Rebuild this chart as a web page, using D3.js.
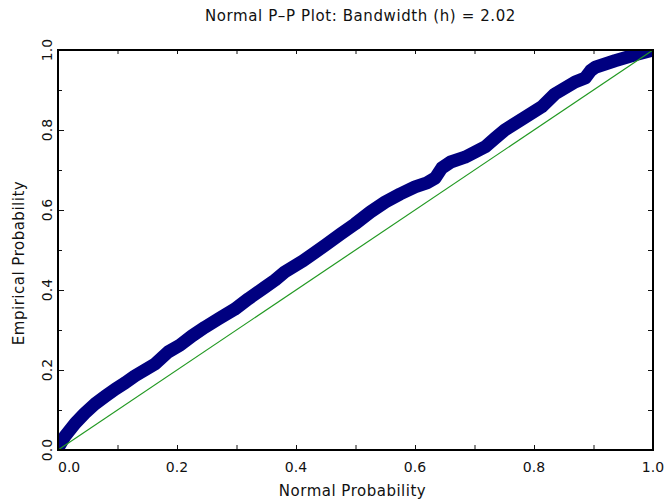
<!DOCTYPE html>
<html>
<head>
<meta charset="utf-8">
<script src="https://cdn.jsdelivr.net/npm/d3@7"></script>
<style>
  body { margin: 0; background: #fff; }
  svg { display: block; }
  text { font-family: "DejaVu Sans", sans-serif; fill: #111; }
</style>
</head>
<body>
<div id="chart"></div>
<script>
//---------------------------DATA---------------------------//
// normal (theoretical) probability vs empirical probability
var normalProb = [0.000, 0.012, 0.029, 0.045, 0.062, 0.080, 0.096, 0.113, 0.129, 0.146,
                  0.163, 0.185, 0.205, 0.225, 0.247, 0.270, 0.297, 0.320, 0.348, 0.365,
                  0.381, 0.412, 0.430, 0.449, 0.475, 0.499, 0.525, 0.550, 0.575, 0.600,
                  0.620, 0.634, 0.645, 0.660, 0.684, 0.718, 0.735, 0.751, 0.785, 0.813,
                  0.835, 0.869, 0.886, 0.895, 0.903, 0.936, 0.970, 1.000];
var empiricalProb = [0.005, 0.035, 0.067, 0.092, 0.115, 0.135, 0.152, 0.168, 0.185, 0.200,
                     0.215, 0.245, 0.262, 0.285, 0.307, 0.328, 0.352, 0.378, 0.407, 0.425,
                     0.445, 0.473, 0.492, 0.512, 0.540, 0.565, 0.595, 0.620, 0.640, 0.658,
                     0.668, 0.680, 0.705, 0.720, 0.732, 0.758, 0.780, 0.800, 0.832, 0.858,
                     0.890, 0.920, 0.930, 0.948, 0.957, 0.973, 0.988, 1.000];
var refLine = [0, 1];
var majorTicks = [0, 0.2, 0.4, 0.6, 0.8, 1.0];
var minorTicks = [0.1, 0.3, 0.5, 0.7, 0.9];
var tickLabels = ["0.0", "0.2", "0.4", "0.6", "0.8", "1.0"];

var titleText = "Normal P\u2013P Plot: Bandwidth (h) = 2.02";
var xTitle = "Normal Probability";
var yTitle = "Empirical Probability";

//--------------------------SETUP---------------------------//
var W = 667, H = 504;
var margin = {top: 50, right: 14, bottom: 54, left: 58};
var width = W - margin.left - margin.right;
var height = H - margin.top - margin.bottom;

var svg = d3.select("#chart").append("svg")
    .attr("width", W)
    .attr("height", H);

var g = svg.append("g")
    .attr("transform", "translate(" + margin.left + "," + margin.top + ")");

g.append("clipPath").attr("id", "plotclip")
    .append("rect")
    .attr("width", width)
    .attr("height", height);

var x = d3.scaleLinear().domain([0, 1]).range([0, width]);
var y = d3.scaleLinear().domain([0, 1]).range([height, 0]);

var points = normalProb.map(function(p, i) { return {p: p, e: empiricalProb[i]}; });

//--------------------------MARKS---------------------------//
var line = d3.line()
    .x(function(d) { return x(d.p); })
    .y(function(d) { return y(d.e); });

// the dense run of markers shows as a thick navy band
g.append("path")
    .datum(points)
    .attr("clip-path", "url(#plotclip)")
    .attr("d", line)
    .attr("fill", "none")
    .attr("stroke", "#000080")
    .attr("stroke-width", 13)
    .attr("stroke-linecap", "round")
    .attr("stroke-linejoin", "round");

g.append("line")
    .attr("x1", x(refLine[0])).attr("y1", y(refLine[0]))
    .attr("x2", x(refLine[1])).attr("y2", y(refLine[1]))
    .attr("stroke", "#229922")
    .attr("stroke-width", 1.2);

//---------------------------AXES---------------------------//
var allTicks = majorTicks.concat(minorTicks);

// bottom
g.append("g")
    .attr("transform", "translate(0," + height + ")")
    .call(d3.axisBottom(x).tickValues(allTicks).tickSize(-5).tickFormat(""))
    .call(function(s) { s.select(".domain").remove(); s.selectAll("line").attr("stroke", "#111"); });
// top
g.append("g")
    .call(d3.axisTop(x).tickValues(allTicks).tickSize(-4).tickFormat(""))
    .call(function(s) { s.select(".domain").remove(); s.selectAll("line").attr("stroke", "#111"); });
// left
g.append("g")
    .call(d3.axisLeft(y).tickValues(majorTicks).tickSize(-6).tickFormat(""))
    .call(function(s) { s.select(".domain").remove(); s.selectAll("line").attr("stroke", "#111"); });
g.append("g")
    .call(d3.axisLeft(y).tickValues(minorTicks).tickSize(-4).tickFormat(""))
    .call(function(s) { s.select(".domain").remove(); s.selectAll("line").attr("stroke", "#111"); });
// right
g.append("g")
    .attr("transform", "translate(" + width + ",0)")
    .call(d3.axisRight(y).tickValues(allTicks).tickSize(-5).tickFormat(""))
    .call(function(s) { s.select(".domain").remove(); s.selectAll("line").attr("stroke", "#111"); });

// frame
g.append("rect")
    .attr("width", width)
    .attr("height", height)
    .attr("fill", "none")
    .attr("stroke", "#000")
    .attr("stroke-width", 2);

// x tick labels
g.selectAll(".xlab")
    .data(majorTicks)
    .enter().append("text")
    .attr("class", "xlab")
    .attr("x", function(d, i) { return i == 0 ? x(d) : x(d); })
    .attr("y", height + 22)
    .attr("text-anchor", function(d, i) { return i == 0 ? "start" : "middle"; })
    .style("font-size", "14px")
    .text(function(d, i) { return tickLabels[i]; });

// y tick labels (rotated)
g.selectAll(".ylab")
    .data(majorTicks)
    .enter().append("text")
    .attr("class", "ylab")
    .attr("transform", function(d) { return "translate(" + (-6) + "," + y(d) + ") rotate(-90)"; })
    .attr("text-anchor", "middle")
    .style("font-size", "14px")
    .text(function(d, i) { return tickLabels[i]; });

//--------------------------TITLES--------------------------//
svg.append("text")
    .attr("x", margin.left + width / 2 + 5)
    .attr("y", 21)
    .attr("text-anchor", "middle")
    .style("font-size", "15px")
    .style("letter-spacing", "0.6px")
    .text(titleText);

svg.append("text")
    .attr("x", margin.left + width / 2 - 3)
    .attr("y", 496)
    .attr("text-anchor", "middle")
    .style("font-size", "15px")
    .style("letter-spacing", "0.5px")
    .text(xTitle);

svg.append("text")
    .attr("transform", "translate(24," + (margin.top + height / 2 + 13) + ") rotate(-90)")
    .attr("text-anchor", "middle")
    .style("font-size", "15px")
    .style("letter-spacing", "0.5px")
    .text(yTitle);
</script>
</body>
</html>
